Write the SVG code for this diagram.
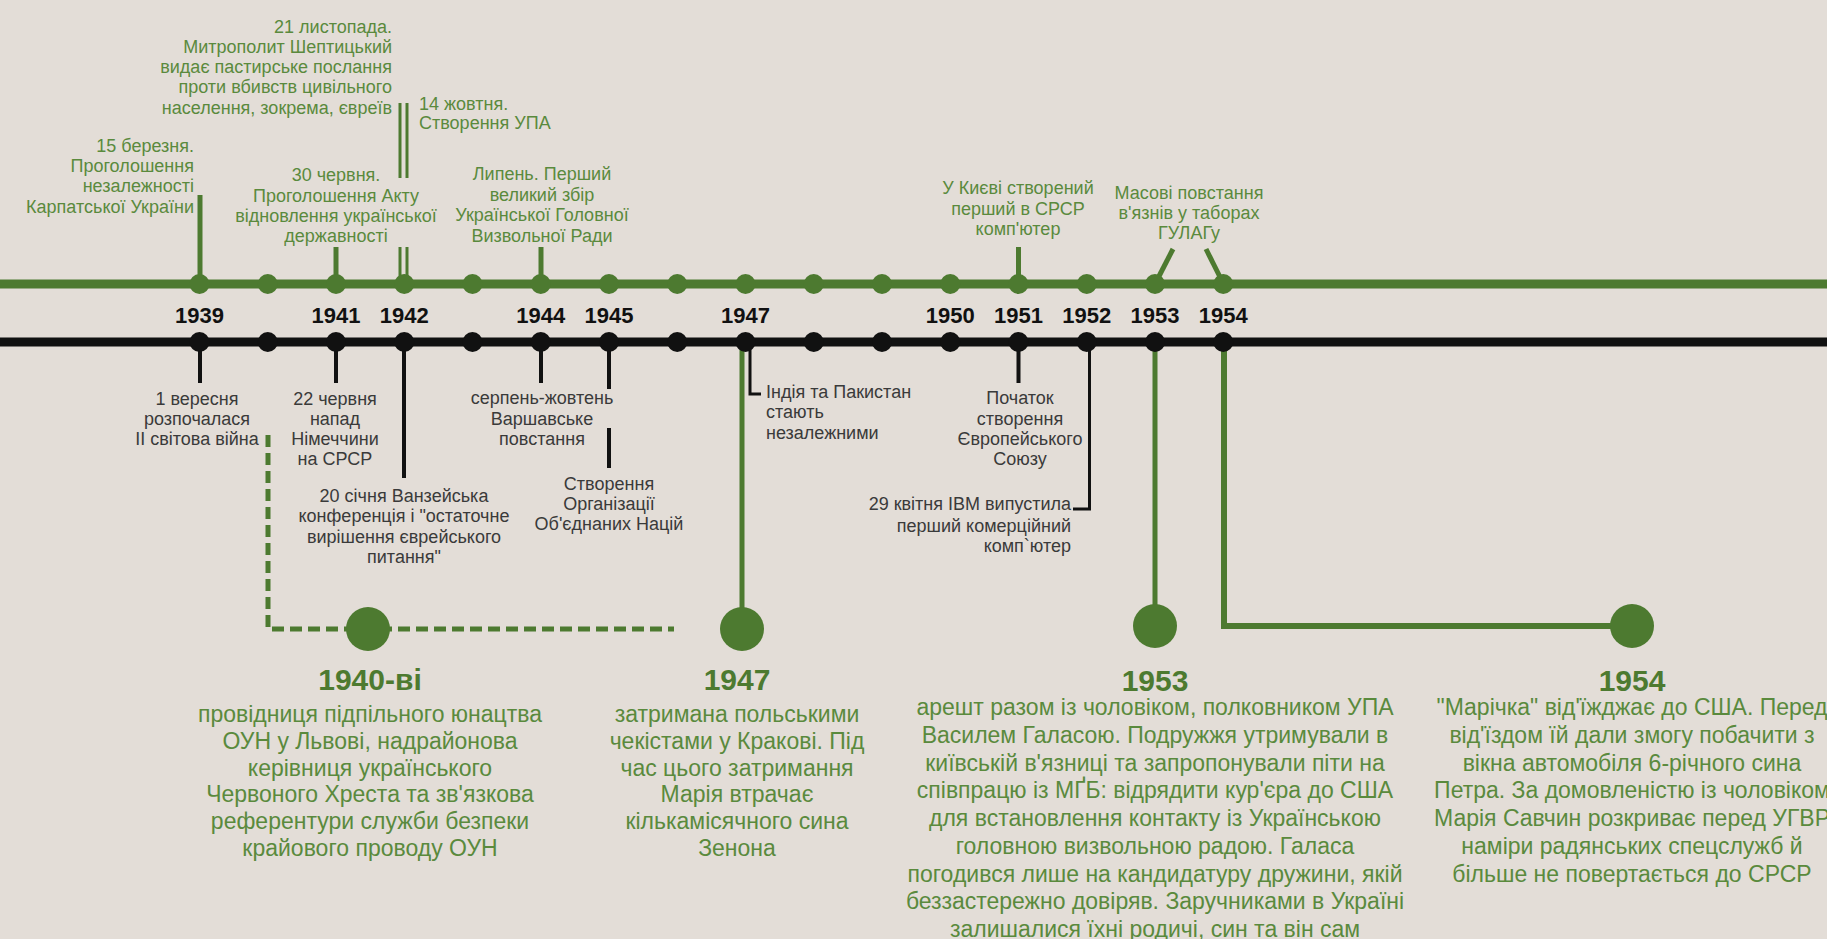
<svg xmlns="http://www.w3.org/2000/svg" width="1827" height="939" viewBox="0 0 1827 939">
<style>
.bg{fill:#e3ddd7}
.gl{stroke:#4d7a30;fill:none}
.bl{stroke:#111;fill:none}
.gn{fill:#4d7a30}
.bn{fill:#111}
.gt{font-family:"Liberation Sans",Arial,sans-serif;font-size:18px;fill:#5a8a3d}
.kt{font-family:"Liberation Sans",Arial,sans-serif;font-size:18px;fill:#3a3a3a}
.yr{font-family:"Liberation Sans",Arial,sans-serif;font-size:22px;font-weight:bold;fill:#111;text-anchor:middle}
.hd{font-family:"Liberation Sans",Arial,sans-serif;font-size:30px;font-weight:bold;fill:#4d7a30;text-anchor:middle}
.bd{font-family:"Liberation Sans",Arial,sans-serif;font-size:23px;fill:#5a8a3d;text-anchor:middle}
.m{text-anchor:middle}
.e{text-anchor:end}
</style>
<rect class="bg" x="0" y="0" width="1827" height="939"/>

<g id="connectors">
  <line class="gl" x1="0" y1="284" x2="1827" y2="284" stroke-width="9"/>
  <line class="bl" x1="0" y1="342" x2="1827" y2="342" stroke-width="9"/>
  <g class="gl" stroke-width="5">
    <line x1="200" y1="195" x2="200" y2="284"/>
    <line x1="336" y1="247" x2="336" y2="284"/>
    <line x1="541" y1="247" x2="541" y2="284"/>
    <line x1="1018.5" y1="247" x2="1018.5" y2="284"/>
    <line x1="1173" y1="249" x2="1155" y2="284"/>
    <line x1="1206" y1="249" x2="1223.5" y2="284"/>
  </g>
  <g class="gl" stroke-width="3">
    <line x1="400" y1="103" x2="400" y2="178"/>
    <line x1="407" y1="103" x2="407" y2="178"/>
    <line x1="400" y1="247" x2="400" y2="284"/>
    <line x1="407" y1="247" x2="407" y2="284"/>
  </g>
  <g class="bl" stroke-width="4">
    <line x1="200" y1="342" x2="200" y2="383"/>
    <line x1="336" y1="342" x2="336" y2="383"/>
    <line x1="404" y1="342" x2="404" y2="478"/>
    <line x1="541" y1="342" x2="541" y2="383"/>
    <line x1="609" y1="342" x2="609" y2="389"/>
    <line x1="609" y1="428" x2="609" y2="468"/>
    <line x1="1018.5" y1="342" x2="1018.5" y2="383"/>
  </g>
  <g class="bl" stroke-width="3">
    <polyline points="750,342 750,394 761,394"/>
    <polyline points="1089.5,342 1089.5,509 1073,509"/>
  </g>
  <path class="gl" d="M268,435 V629 H674" stroke-width="5" stroke-dasharray="12 6"/>
  <line class="gl" x1="742" y1="342" x2="742" y2="620" stroke-width="5"/>
  <line class="gl" x1="1155" y1="342" x2="1155" y2="615" stroke-width="5"/>
  <path class="gl" d="M1224,342 V626 H1632" stroke-width="6"/>
</g>

<g id="timeline-nodes">
  <g class="gn">
    <circle cx="199.5" cy="284" r="10"/><circle cx="267.75" cy="284" r="10"/><circle cx="336" cy="284" r="10"/><circle cx="404.25" cy="284" r="10"/>
    <circle cx="472.5" cy="284" r="10"/><circle cx="540.75" cy="284" r="10"/><circle cx="609" cy="284" r="10"/><circle cx="677.25" cy="284" r="10"/>
    <circle cx="745.5" cy="284" r="10"/><circle cx="813.75" cy="284" r="10"/><circle cx="882" cy="284" r="10"/><circle cx="950.25" cy="284" r="10"/>
    <circle cx="1018.5" cy="284" r="10"/><circle cx="1086.75" cy="284" r="10"/><circle cx="1155" cy="284" r="10"/><circle cx="1223.25" cy="284" r="10"/>
  </g>
  <g class="bn">
    <circle cx="199.5" cy="342" r="10"/><circle cx="267.75" cy="342" r="10"/><circle cx="336" cy="342" r="10"/><circle cx="404.25" cy="342" r="10"/>
    <circle cx="472.5" cy="342" r="10"/><circle cx="540.75" cy="342" r="10"/><circle cx="609" cy="342" r="10"/><circle cx="677.25" cy="342" r="10"/>
    <circle cx="745.5" cy="342" r="10"/><circle cx="813.75" cy="342" r="10"/><circle cx="882" cy="342" r="10"/><circle cx="950.25" cy="342" r="10"/>
    <circle cx="1018.5" cy="342" r="10"/><circle cx="1086.75" cy="342" r="10"/><circle cx="1155" cy="342" r="10"/><circle cx="1223.25" cy="342" r="10"/>
  </g>
</g>

<g id="year-labels">
  <text class="yr" x="199.5" y="323">1939</text>
  <text class="yr" x="336" y="323">1941</text>
  <text class="yr" x="404.25" y="323">1942</text>
  <text class="yr" x="540.75" y="323">1944</text>
  <text class="yr" x="609" y="323">1945</text>
  <text class="yr" x="745.5" y="323">1947</text>
  <text class="yr" x="950.25" y="323">1950</text>
  <text class="yr" x="1018.5" y="323">1951</text>
  <text class="yr" x="1086.75" y="323">1952</text>
  <text class="yr" x="1155" y="323">1953</text>
  <text class="yr" x="1223.25" y="323">1954</text>
</g>

<g id="ev-1939-up"><text class="gt e"><tspan x="194" y="152">15 березня.</tspan><tspan x="194" y="172">Проголошення</tspan><tspan x="194" y="192">незалежності</tspan><tspan x="194" y="213">Карпатської України</tspan></text></g>
<g id="ev-1942-nov"><text class="gt e"><tspan x="392" y="33">21 листопада.</tspan><tspan x="392" y="53">Митрополит Шептицький</tspan><tspan x="392" y="73">видає пастирське послання</tspan><tspan x="392" y="93">проти вбивств цивільного</tspan><tspan x="392" y="114">населення, зокрема, євреїв</tspan></text></g>
<g id="ev-1942-oct"><text class="gt"><tspan x="419" y="110">14 жовтня.</tspan><tspan x="419" y="129">Створення УПА</tspan></text></g>
<g id="ev-1941-up"><text class="gt m"><tspan x="336" y="181">30 червня.</tspan><tspan x="336" y="202">Проголошення Акту</tspan><tspan x="336" y="222">відновлення української</tspan><tspan x="336" y="242">державності</tspan></text></g>
<g id="ev-1944-up"><text class="gt m"><tspan x="542" y="180">Липень. Перший</tspan><tspan x="542" y="201">великий збір</tspan><tspan x="542" y="221">Української Головної</tspan><tspan x="542" y="242">Визвольної Ради</tspan></text></g>
<g id="ev-1951-up"><text class="gt m"><tspan x="1018" y="194">У Києві створений</tspan><tspan x="1018" y="215">перший в СРСР</tspan><tspan x="1018" y="235">комп'ютер</tspan></text></g>
<g id="ev-1953-up"><text class="gt m"><tspan x="1189" y="199">Масові повстання</tspan><tspan x="1189" y="219">в'язнів у таборах</tspan><tspan x="1189" y="239">ГУЛАГу</tspan></text></g>

<g id="ev-1939-down"><text class="kt m"><tspan x="197" y="405">1 вересня</tspan><tspan x="197" y="425">розпочалася</tspan><tspan x="197" y="445">II світова війна</tspan></text></g>
<g id="ev-1941-down"><text class="kt m"><tspan x="335" y="405">22 червня</tspan><tspan x="335" y="425">напад</tspan><tspan x="335" y="445">Німеччини</tspan><tspan x="335" y="465">на СРСР</tspan></text></g>
<g id="ev-1942-down"><text class="kt m"><tspan x="404" y="502">20 січня Ванзейська</tspan><tspan x="404" y="522">конференція і "остаточне</tspan><tspan x="404" y="543">вирішення єврейського</tspan><tspan x="404" y="563">питання"</tspan></text></g>
<g id="ev-1944-down"><text class="kt m"><tspan x="542" y="404">серпень-жовтень</tspan><tspan x="542" y="425">Варшавське</tspan><tspan x="542" y="445">повстання</tspan></text></g>
<g id="ev-1945-down"><text class="kt m"><tspan x="609" y="490">Створення</tspan><tspan x="609" y="510">Організації</tspan><tspan x="609" y="530">Об'єднаних Націй</tspan></text></g>
<g id="ev-1947-down"><text class="kt"><tspan x="766" y="398">Індія та Пакистан</tspan><tspan x="766" y="418">стають</tspan><tspan x="766" y="439">незалежними</tspan></text></g>
<g id="ev-1951-down"><text class="kt m"><tspan x="1020" y="404">Початок</tspan><tspan x="1020" y="425">створення</tspan><tspan x="1020" y="445">Європейського</tspan><tspan x="1020" y="465">Союзу</tspan></text></g>
<g id="ev-1952-down"><text class="kt e"><tspan x="1071" y="510">29 квітня IBM випустила</tspan><tspan x="1071" y="532">перший комерційний</tspan><tspan x="1071" y="552">комп`ютер</tspan></text></g>

<g id="bio-1940s">
  <circle class="gn" cx="368" cy="629" r="22"/>
  <text class="hd" x="370" y="690">1940-ві</text>
  <text class="bd"><tspan x="370" y="722">провідниця підпільного юнацтва</tspan><tspan x="370" y="749">ОУН у Львові, надрайонова</tspan><tspan x="370" y="776">керівниця українського</tspan><tspan x="370" y="802">Червоного Хреста та зв'язкова</tspan><tspan x="370" y="829">референтури служби безпеки</tspan><tspan x="370" y="856">крайового проводу ОУН</tspan></text>
</g>
<g id="bio-1947">
  <circle class="gn" cx="742" cy="629" r="22"/>
  <text class="hd" x="737" y="690">1947</text>
  <text class="bd"><tspan x="737" y="722">затримана польськими</tspan><tspan x="737" y="749">чекістами у Кракові. Під</tspan><tspan x="737" y="776">час цього затримання</tspan><tspan x="737" y="802">Марія втрачає</tspan><tspan x="737" y="829">кількамісячного сина</tspan><tspan x="737" y="856">Зенона</tspan></text>
</g>
<g id="bio-1953">
  <circle class="gn" cx="1155" cy="626" r="22"/>
  <text class="hd" x="1155" y="691">1953</text>
  <text class="bd"><tspan x="1155" y="715">арешт разом із чоловіком, полковником УПА</tspan><tspan x="1155" y="743">Василем Галасою. Подружжя утримували в</tspan><tspan x="1155" y="771">київській в'язниці та запропонували піти на</tspan><tspan x="1155" y="798">співпрацю із МҐБ: відрядити кур'єра до США</tspan><tspan x="1155" y="826">для встановлення контакту із Українською</tspan><tspan x="1155" y="854">головною визвольною радою. Галаса</tspan><tspan x="1155" y="882">погодився лише на кандидатуру дружини, якій</tspan><tspan x="1155" y="909">беззастережно довіряв. Заручниками в Україні</tspan><tspan x="1155" y="937">залишалися їхні родичі, син та він сам</tspan></text>
</g>
<g id="bio-1954">
  <circle class="gn" cx="1632" cy="626" r="22"/>
  <text class="hd" x="1632" y="691">1954</text>
  <text class="bd"><tspan x="1632" y="715">"Марічка" від'їжджає до США. Перед</tspan><tspan x="1632" y="743">від'їздом їй дали змогу побачити з</tspan><tspan x="1632" y="771">вікна автомобіля 6-річного сина</tspan><tspan x="1632" y="798">Петра. За домовленістю із чоловіком</tspan><tspan x="1632" y="826">Марія Савчин розкриває перед УГВР</tspan><tspan x="1632" y="854">наміри радянських спецслужб й</tspan><tspan x="1632" y="882">більше не повертається до СРСР</tspan></text>
</g>
</svg>
